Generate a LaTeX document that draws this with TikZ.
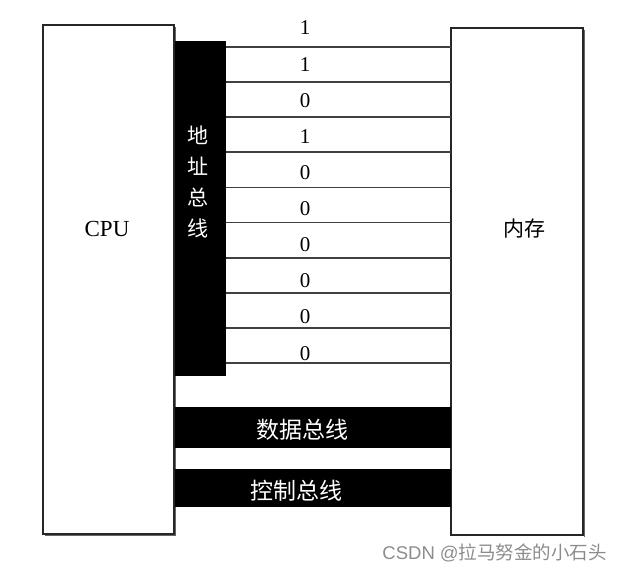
\documentclass[tikz,border=0pt]{standalone}
\usepackage{fontspec}
\setmainfont{Liberation Serif}
\newfontfamily\cjk{Noto Sans CJK SC}
\newfontfamily\wmsans{Liberation Sans}
\begin{document}
\begin{tikzpicture}[x=1pt,y=-1pt,
  unitbox/.style={draw=black!85,line width=1.8pt,fill=white,inner sep=0pt},
  busbar/.style={fill=black,draw=none,inner sep=0pt},
  wire/.style={draw=black!75,line width=1.8pt},
  bit/.style={font=\fontsize{21}{21}\selectfont,inner sep=0pt},
  bustext/.style={text=white,font=\cjk\fontsize{23}{23}\selectfont,inner sep=0pt}]
\useasboundingbox (0,0) rectangle (624,575);
% units
\draw[unitbox] (43,25) rectangle (174,534);
\draw[unitbox] (451,28) rectangle (583,535);
\draw[black!60,line width=1.2pt] (45,535.5) -- (175.5,535.5) -- (175.5,27);
\draw[black!60,line width=1.2pt] (584.5,30) -- (584.5,536.5);
\node[font=\fontsize{23}{23}\selectfont] (cpu) at (107,229) {CPU};
\node[font=\cjk\fontsize{21}{21}\selectfont] (mem) at (524,229) {内存};
% address bus bar
\fill[black] (175,41) rectangle (226,376);
\node[bustext,align=center,font=\cjk\fontsize{21}{31}\selectfont] (addr) at (198,182) {地\\址\\总\\线};
% address wires
\foreach \i in {0,...,9}{
  \coordinate (a\i) at (226,{47+35.1*\i});
  \coordinate (m\i) at (451,{47+35.1*\i});
  \draw[wire] (a\i) -- (m\i);
}
% bit labels
\foreach \b/\y [count=\k] in {1/28,1/65,0/101,1/137,0/173,0/209,0/245,0/281,0/317,0/354}{
  \node[bit] (b\k) at (305,\y) {\b};
}
% data & control bus
\fill[black] (175,407) rectangle (451,448);
\node[bustext] (data) at (302,430) {数据总线};
\fill[black] (175,469) rectangle (451,507);
\node[bustext] (ctrl) at (296,491) {控制总线};
% watermark
\node[anchor=east,text=black!45,inner sep=0pt,font=\fontsize{18.5}{18.5}\selectfont] (wm) at (607,553) {\wmsans CSDN @\cjk 拉马努金的小石头};
\end{tikzpicture}
\end{document}
